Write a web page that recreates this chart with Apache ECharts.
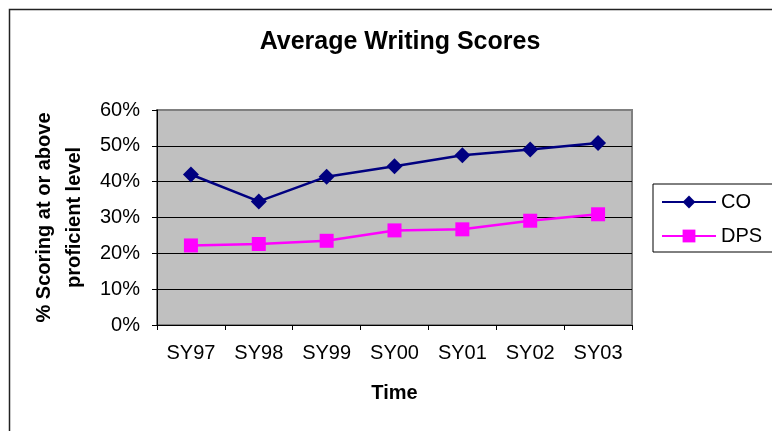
<!DOCTYPE html>
<html>
<head>
<meta charset="utf-8">
<script src="https://cdn.jsdelivr.net/npm/echarts@6/dist/echarts.min.js"></script>
<style>
html,body{margin:0;padding:0;background:#fff;}
#c{width:772px;height:431px;}
</style>
</head>
<body>
<div id="c"></div>
<script>
const categories = ['SY97','SY98','SY99','SY00','SY01','SY02','SY03'];
const coValues = [42.0, 34.5, 41.4, 44.3, 47.4, 49.0, 50.8];
const dpsValues = [22.2, 22.6, 23.5, 26.4, 26.7, 29.1, 30.9];
const yMin = 0, yMax = 60, yStep = 10;

const font = 'Liberation Sans, Arial, sans-serif';
const chart = echarts.init(document.getElementById('c'), null, {renderer: 'canvas'});
chart.setOption({
  animation: false,
  backgroundColor: '#fff',
  textStyle: {fontFamily: font},
  title: {
    text: 'Average Writing Scores',
    left: 395, top: 25, textAlign: 'center',
    textStyle: {fontFamily: font, fontSize: 25, fontWeight: 'bold', color: '#000'}
  },
  graphic: [{
    type: 'rect', left: 7, top: 7, z: -10,
    shape: {width: 780, height: 440},
    style: {fill: 'none', stroke: '#222', lineWidth: 1.5}
  }],
  legend: {
    orient: 'vertical', left: 653, top: 184,
    padding: [8, 12, 6, 8],
    itemWidth: 54, itemHeight: 16, itemGap: 14,
    borderColor: '#000', borderWidth: 1,
    textStyle: {fontFamily: font, fontSize: 20, color: '#000'},
    data: ['CO', 'DPS']
  },
  grid: {left: 157, right: 140, top: 110, bottom: 106, show: true,
    backgroundColor: '#C0C0C0', borderColor: '#808080', borderWidth: 2},
  xAxis: {
    type: 'category', data: categories, boundaryGap: true,
    name: 'Time', nameLocation: 'middle', nameGap: 58,
    nameTextStyle: {fontFamily: font, fontSize: 20, fontWeight: 'bold', color: '#000'},
    axisLine: {lineStyle: {color: '#000', width: 1}},
    axisTick: {show: true, length: 5, lineStyle: {color: '#000'}},
    axisLabel: {fontFamily: font, fontSize: 20, color: '#000', margin: 18}
  },
  yAxis: {
    type: 'value', min: yMin, max: yMax, interval: yStep,
    name: '% Scoring at or above\nproficient level', nameLocation: 'middle', nameGap: 63, nameRotate: 90,
    nameTextStyle: {fontFamily: font, fontSize: 20, fontWeight: 'bold', color: '#000', lineHeight: 30},
    axisLine: {show: true, lineStyle: {color: '#000', width: 1}},
    axisTick: {show: true, length: 5, lineStyle: {color: '#000'}},
    axisLabel: {fontFamily: font, fontSize: 20, color: '#000', margin: 17, formatter: '{value}%'},
    splitLine: {show: true, showMaxLine: false, lineStyle: {color: '#000', width: 1}}
  },
  series: [
    {name: 'CO', type: 'line', data: coValues, symbol: 'diamond', symbolSize: 16,
      itemStyle: {color: '#000080'}, lineStyle: {color: '#000080', width: 2.5}},
    {name: 'DPS', type: 'line', data: dpsValues, symbol: 'rect', symbolSize: 14,
      itemStyle: {color: '#FF00FF'}, lineStyle: {color: '#FF00FF', width: 2.5}}
  ]
});
</script>
</body>
</html>
